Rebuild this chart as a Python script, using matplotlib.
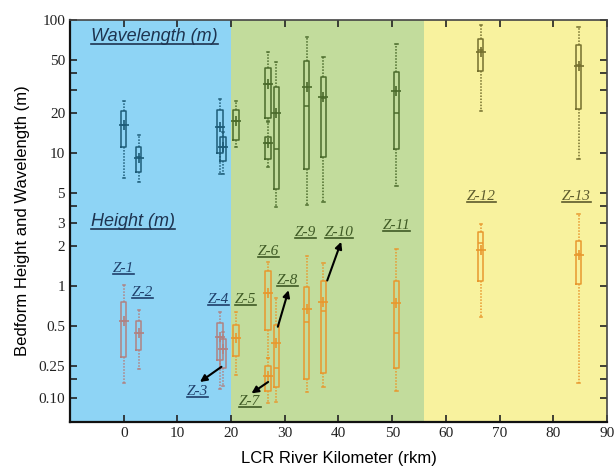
import matplotlib
matplotlib.use('Agg')
from matplotlib import pyplot as plt
from matplotlib.lines import Line2D

# zone names and river km of each box
zones = ['Z-1', 'Z-2', 'Z-3', 'Z-4', 'Z-5', 'Z-6', 'Z-7',
         'Z-8', 'Z-9', 'Z-10', 'Z-11', 'Z-12', 'Z-13']
rkm = [0, 2.8, 18.5, 17.9, 20.9, 26.9, 26.9, 28.4, 34.1, 37.2, 50.8, 66.5, 84.7]

# bedform wavelength (m): whisker low, q1, median, mean, q3, whisker high
wl_lo = [6.5, 6.1, 6.95, 7.0, 11.0, 17.5, 7.9, 3.9, 4.1, 4.3, 5.65, 20.8, 9.0]
wl_q1 = [11.0, 7.2, 8.75, 10.0, 12.5, 18.2, 9.0, 5.4, 7.6, 9.4, 10.8, 41.4, 21.4]
wl_med = [16.3, 9.4, 11.1, 15.6, 17.4, 32.9, 11.8, 10.8, 22.6, 26.0, 20.1, 59.5, 46.0]
wl_mean = [16.3, 9.2, 11.1, 15.6, 17.4, 32.9, 11.8, 20.1, 31.5, 26.2, 29.4, 57.2, 45.1]
wl_q3 = [20.8, 11.0, 13.1, 21.0, 21.0, 43.3, 13.3, 31.2, 49.2, 37.5, 40.4, 71.9, 64.9]
wl_hi = [24.6, 13.6, 14.5, 25.3, 24.6, 57.7, 17.2, 48.6, 74.9, 52.4, 66.0, 91.7, 89.1]

# bedform height (m)
ht_lo = [0.187, 0.238, 0.177, 0.167, 0.214, 0.29, 0.131, 0.135, 0.160, 0.175, 0.163, 0.58, 0.187]
ht_q1 = [0.294, 0.33, 0.240, 0.278, 0.298, 0.467, 0.163, 0.175, 0.20, 0.223, 0.243, 1.10, 1.03]
ht_med = [0.55, 0.44, 0.334, 0.411, 0.41, 0.88, 0.21, 0.240, 0.533, 0.652, 0.446, 2.09, 1.75]
ht_mean = [0.546, 0.44, 0.334, 0.411, 0.41, 0.88, 0.21, 0.375, 0.672, 0.762, 0.742, 1.86, 1.71]
ht_q3 = [0.762, 0.546, 0.397, 0.530, 0.509, 1.30, 0.25, 0.509, 0.977, 1.10, 1.09, 2.56, 2.19]
ht_hi = [1.02, 0.66, 0.45, 0.634, 0.634, 1.52, 0.29, 0.807, 1.68, 1.48, 1.89, 2.92, 3.47]

# reaches (rkm) shaded in the background
reach_edges = [-10, 20, 56, 90]
reach_colors = ['#8ed4f5', '#c2dc9c', '#f8f29e']

# per-zone colours
wl_colors = ['#1d5c78'] * 4 + ['#4b6b2b'] * 7 + ['#75702e'] * 2
ht_colors = ['#b08282'] * 4 + ['#e8982e'] * 9
lab_colors = ['#1f3f6a'] * 4 + ['#3f5a25'] * 7 + ['#5c5a2c'] * 2

# label positions (rkm, m)
lab_x = [0, 3.5, 13.8, 17.7, 22.7, 27.0, 23.5, 30.5, 33.9, 40.1, 50.8, 66.6, 84.3]
lab_y = [1.36, 0.89, 0.162, 0.79, 0.79, 1.81, 0.135, 1.10, 2.52, 2.52, 2.87, 4.7, 4.7]

# arrows: zone -> (start, end)
arrows = {
    'Z-3': ((18.2, 0.247), (14.2, 0.19)),
    'Z-7': ((26.9, 0.19), (23.8, 0.156)),
    'Z-8': ((28.7, 0.494), (30.7, 0.93)),
    'Z-10': ((37.9, 1.10), (40.5, 2.15)),
}

yticks = [0.144, 0.2, 0.25, 0.5, 1, 2, 3, 4, 5, 10, 20, 30, 40, 50, 100]
ylabels = ['0.10', '', '0.25', '0.5', '1', '2', '3', '', '5', '10', '20', '', '', '50', '100']


def draw_box(ax, pos, lo, q1, med, mean, q3, hi, color):
    st = dict(whislo=lo, q1=q1, med=med, mean=mean, q3=q3, whishi=hi, fliers=[])
    ax.bxp([st], positions=[pos], widths=1.0, capwidths=0.4, showmeans=True,
           boxprops=dict(color=color, lw=1.1),
           whiskerprops=dict(color=color, lw=1.1, ls=(0, (1, 1))),
           capprops=dict(color=color, lw=1.1),
           medianprops=dict(color=color, lw=1.1),
           meanprops=dict(marker='+', markeredgecolor=color, markersize=7,
                          markeredgewidth=1.2))


def main():
    plt.rcParams['font.family'] = 'Liberation Serif'
    fig = plt.figure(figsize=(6.15, 4.69), dpi=100)
    ax = fig.add_axes([0.1138, 0.1002, 0.8732, 0.8572])

    for i in range(3):
        ax.axvspan(reach_edges[i], reach_edges[i + 1], color=reach_colors[i], lw=0, zorder=0)

    for i in range(len(zones)):
        draw_box(ax, rkm[i], wl_lo[i], wl_q1[i], wl_med[i], wl_mean[i], wl_q3[i], wl_hi[i], wl_colors[i])
        draw_box(ax, rkm[i], ht_lo[i], ht_q1[i], ht_med[i], ht_mean[i], ht_q3[i], ht_hi[i], ht_colors[i])

    ax.set_yscale('log')
    ax.set_xlim(-10, 90)
    ax.set_ylim(0.095, 100)
    ax.set_xticks(range(0, 91, 10))
    ax.set_xticklabels([str(v) for v in range(0, 91, 10)])
    ax.set_yticks(yticks)
    ax.set_yticklabels(ylabels)
    ax.minorticks_off()
    ax.tick_params(direction='in', length=5, width=1.2, top=True, right=True,
                   labelsize=11, colors='#222222')
    for s in ['left', 'bottom']:
        ax.spines[s].set_linewidth(1.6)
        ax.spines[s].set_color('#111111')
    for s in ['top', 'right']:
        ax.spines[s].set_linewidth(1.2)
        ax.spines[s].set_color('#444444')

    ax.set_xlabel('LCR River Kilometer (rkm)', family='Liberation Sans', fontsize=12, labelpad=8)
    ax.set_ylabel('Bedform Height and Wavelength (m)', family='Liberation Sans', fontsize=12, labelpad=6)

    texts = []
    texts.append(ax.text(-6.0, 74.5, 'Wavelength (m)', family='Liberation Sans', style='italic',
                         fontsize=13, color='#1e3450', va='center', ha='left'))
    texts.append(ax.text(-6.0, 3.03, 'Height (m)', family='Liberation Sans', style='italic',
                         fontsize=13, color='#1e3450', va='center', ha='left'))
    for i, z in enumerate(zones):
        texts.append(ax.text(lab_x[i], lab_y[i], z, style='italic', fontsize=11,
                             color=lab_colors[i], ha='center', va='center'))

    for z, (p0, p1) in arrows.items():
        ax.annotate('', xy=p1, xytext=p0,
                    arrowprops=dict(arrowstyle='-|>', color='black', lw=1.5,
                                    mutation_scale=10, shrinkA=0, shrinkB=0))

    # underline the labels
    fig.canvas.draw()
    inv = fig.transFigure.inverted()
    for t in texts:
        bb = t.get_window_extent()
        (x0, y0), (x1, y1) = inv.transform([(bb.x0, bb.y0 + 1), (bb.x1, bb.y0 + 1)])
        fig.add_artist(Line2D([x0, x1], [y0, y1], color=t.get_color(), lw=1.2))

    fig.savefig('out.png', dpi=100)


if __name__ == '__main__':
    main()
